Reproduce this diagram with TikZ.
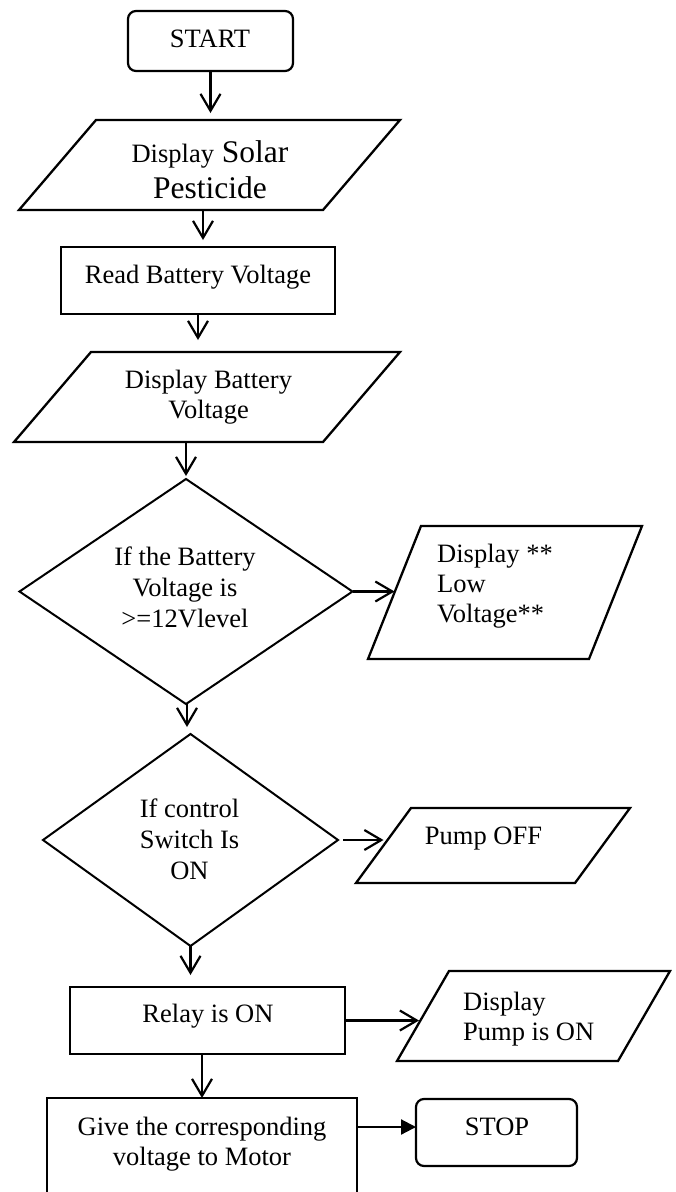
\documentclass[tikz,border=0pt]{standalone}
\usepackage{fontspec}
\setmainfont{Liberation Serif}
\usetikzlibrary{arrows.meta,shapes.geometric,calc}
\newcommand{\myparashape}[2]{%
  \draw[shapeline] ($(#1.north west)+(#2,0)$) -- (#1.north east) -- ($(#1.south east)+(-#2,0)$) -- (#1.south west) -- cycle;
  \coordinate (#1-w) at ($(#1.south west)!0.5!($(#1.north west)+(#2,0)$)$);
}
\tikzset{
  shapeline/.style={line width=2.3pt, line join=miter},
  pbox/.style={inner sep=0pt, outer sep=0pt},
  rbox/.style={draw, line width=2.3pt, inner sep=0pt, outer sep=0pt},
  tbox/.style={draw, line width=2.2pt, inner sep=0pt, outer sep=0pt, rounded corners=8pt},
  dbox/.style={diamond, draw, line width=2pt, inner sep=0pt, outer sep=0pt},
  txt/.style={font=\fontsize{26.5}{31}\selectfont, align=center, inner sep=0pt},
  txtb/.style={font=\fontsize{26.5}{30}\selectfont, align=center, inner sep=0pt},
  txtl/.style={font=\fontsize{26.5}{30}\selectfont, align=left, inner sep=0pt, anchor=west},
  arr/.style={line width=2.2pt, -{Straight Barb[length=17pt,width=20pt]}},
  tri/.style={line width=2.2pt, -{Triangle[length=15pt,width=15pt]}},
}
\begin{document}
\begin{tikzpicture}[x=1pt,y=-1pt]
\clip (0,0) rectangle (676,1192);
\fill[white] (0,0) rectangle (676,1192);

% shapes
\node[tbox, minimum width=165pt, minimum height=60pt] (start) at (210.5,41) {};
\node[pbox, minimum width=381pt, minimum height=90pt] (p1) at (209.5,165) {};
\myparashape{p1}{77}
\node[rbox, minimum width=274pt, minimum height=67pt] (rd) at (198,280.5) {};
\node[pbox, minimum width=386pt, minimum height=90pt] (p2) at (207,397) {};
\myparashape{p2}{77}
\node[dbox, minimum width=333pt, minimum height=225pt] (d1) at (186,591.5) {};
\node[pbox, minimum width=274pt, minimum height=133pt] (p3) at (505,592.5) {};
\myparashape{p3}{53}
\node[dbox, minimum width=295pt, minimum height=212pt] (d2) at (190.5,840) {};
\node[pbox, minimum width=274pt, minimum height=75pt] (p4) at (493,845.5) {};
\myparashape{p4}{55}
\node[rbox, minimum width=275pt, minimum height=67pt] (relay) at (207.5,1020.5) {};
\node[pbox, minimum width=273pt, minimum height=90pt] (p5) at (533.5,1016) {};
\myparashape{p5}{52}
\node[rbox, minimum width=310pt, minimum height=120pt] (give) at (202,1158) {};
\node[tbox, minimum width=161pt, minimum height=67pt] (stop) at (496.5,1132.5) {};

% texts
\node[txt] (t-start) at (210,41.5) {\strut START};
\node[font=\fontsize{31.5}{36}\selectfont, align=center, inner sep=0pt] (t-p1) at (210,173)
  {\strut{\fontsize{26.5}{36}\selectfont Display} Solar\\\strut Pesticide};
\node[txt] (t-rd) at (198,277.5) {\strut Read Battery Voltage};
\node[txtb] (t-p2) at (208.5,397.5) {\strut Display Battery\\\strut Voltage};
\node[txt] (t-d1) at (185,590.5) {\strut If the Battery\\\strut Voltage is\\\strut >=12Vlevel};
\node[txtl] (t-p3) at (437,586) {\strut Display **\\\strut Low\\\strut Voltage**};
\node[txt] (t-d2) at (189.5,842.5) {\strut If control\\\strut Switch Is\\\strut ON};
\node[txt] (t-p4) at (483.5,838.5) {\strut Pump OFF};
\node[txt] (t-relay) at (208,1016.5) {\strut Relay is ON};
\node[txtl] (t-p5) at (463,1019.5) {\strut Display\\\strut Pump is ON};
\node[txtb] (t-give) at (202,1144.5) {\strut Give the corresponding\\\strut voltage to Motor};
\node[txt] (t-stop) at (497,1129.5) {\strut STOP};

% connectors
\draw[arr, shorten >=7pt] (start.south) -- (start.south |- p1.north);
\draw[arr, shorten >=7pt] ([xshift=-6.5pt]p1.south) -- ([xshift=-6.5pt]p1.south |- rd.north);
\draw[arr, shorten >=12pt] (rd.south) -- (rd.south |- p2.north);
\draw[arr, shorten >=3pt] (p2.south -| d1.north) -- (d1.north);
\draw[arr] (d1.east) -- (d1.east -| p3-w);
\draw[arr, shorten >=7pt] ([xshift=1pt]d1.south) -- ([xshift=1pt]d1.south |- d2.north);
\draw[arr, shorten <=5pt] (d2.east) -- (d2.east -| p4-w);
\draw[arr, shorten >=12pt] (d2.south) -- (d2.south |- relay.north);
\draw[arr, shorten >=4pt] (relay.east) -- (relay.east -| p5-w);
\draw[arr] (relay.south -| give.north) -- (give.north);
\coordinate (sw) at ([yshift=5.5pt]stop.west);
\draw[tri] (give.east |- sw) -- (sw);
\end{tikzpicture}
\end{document}
